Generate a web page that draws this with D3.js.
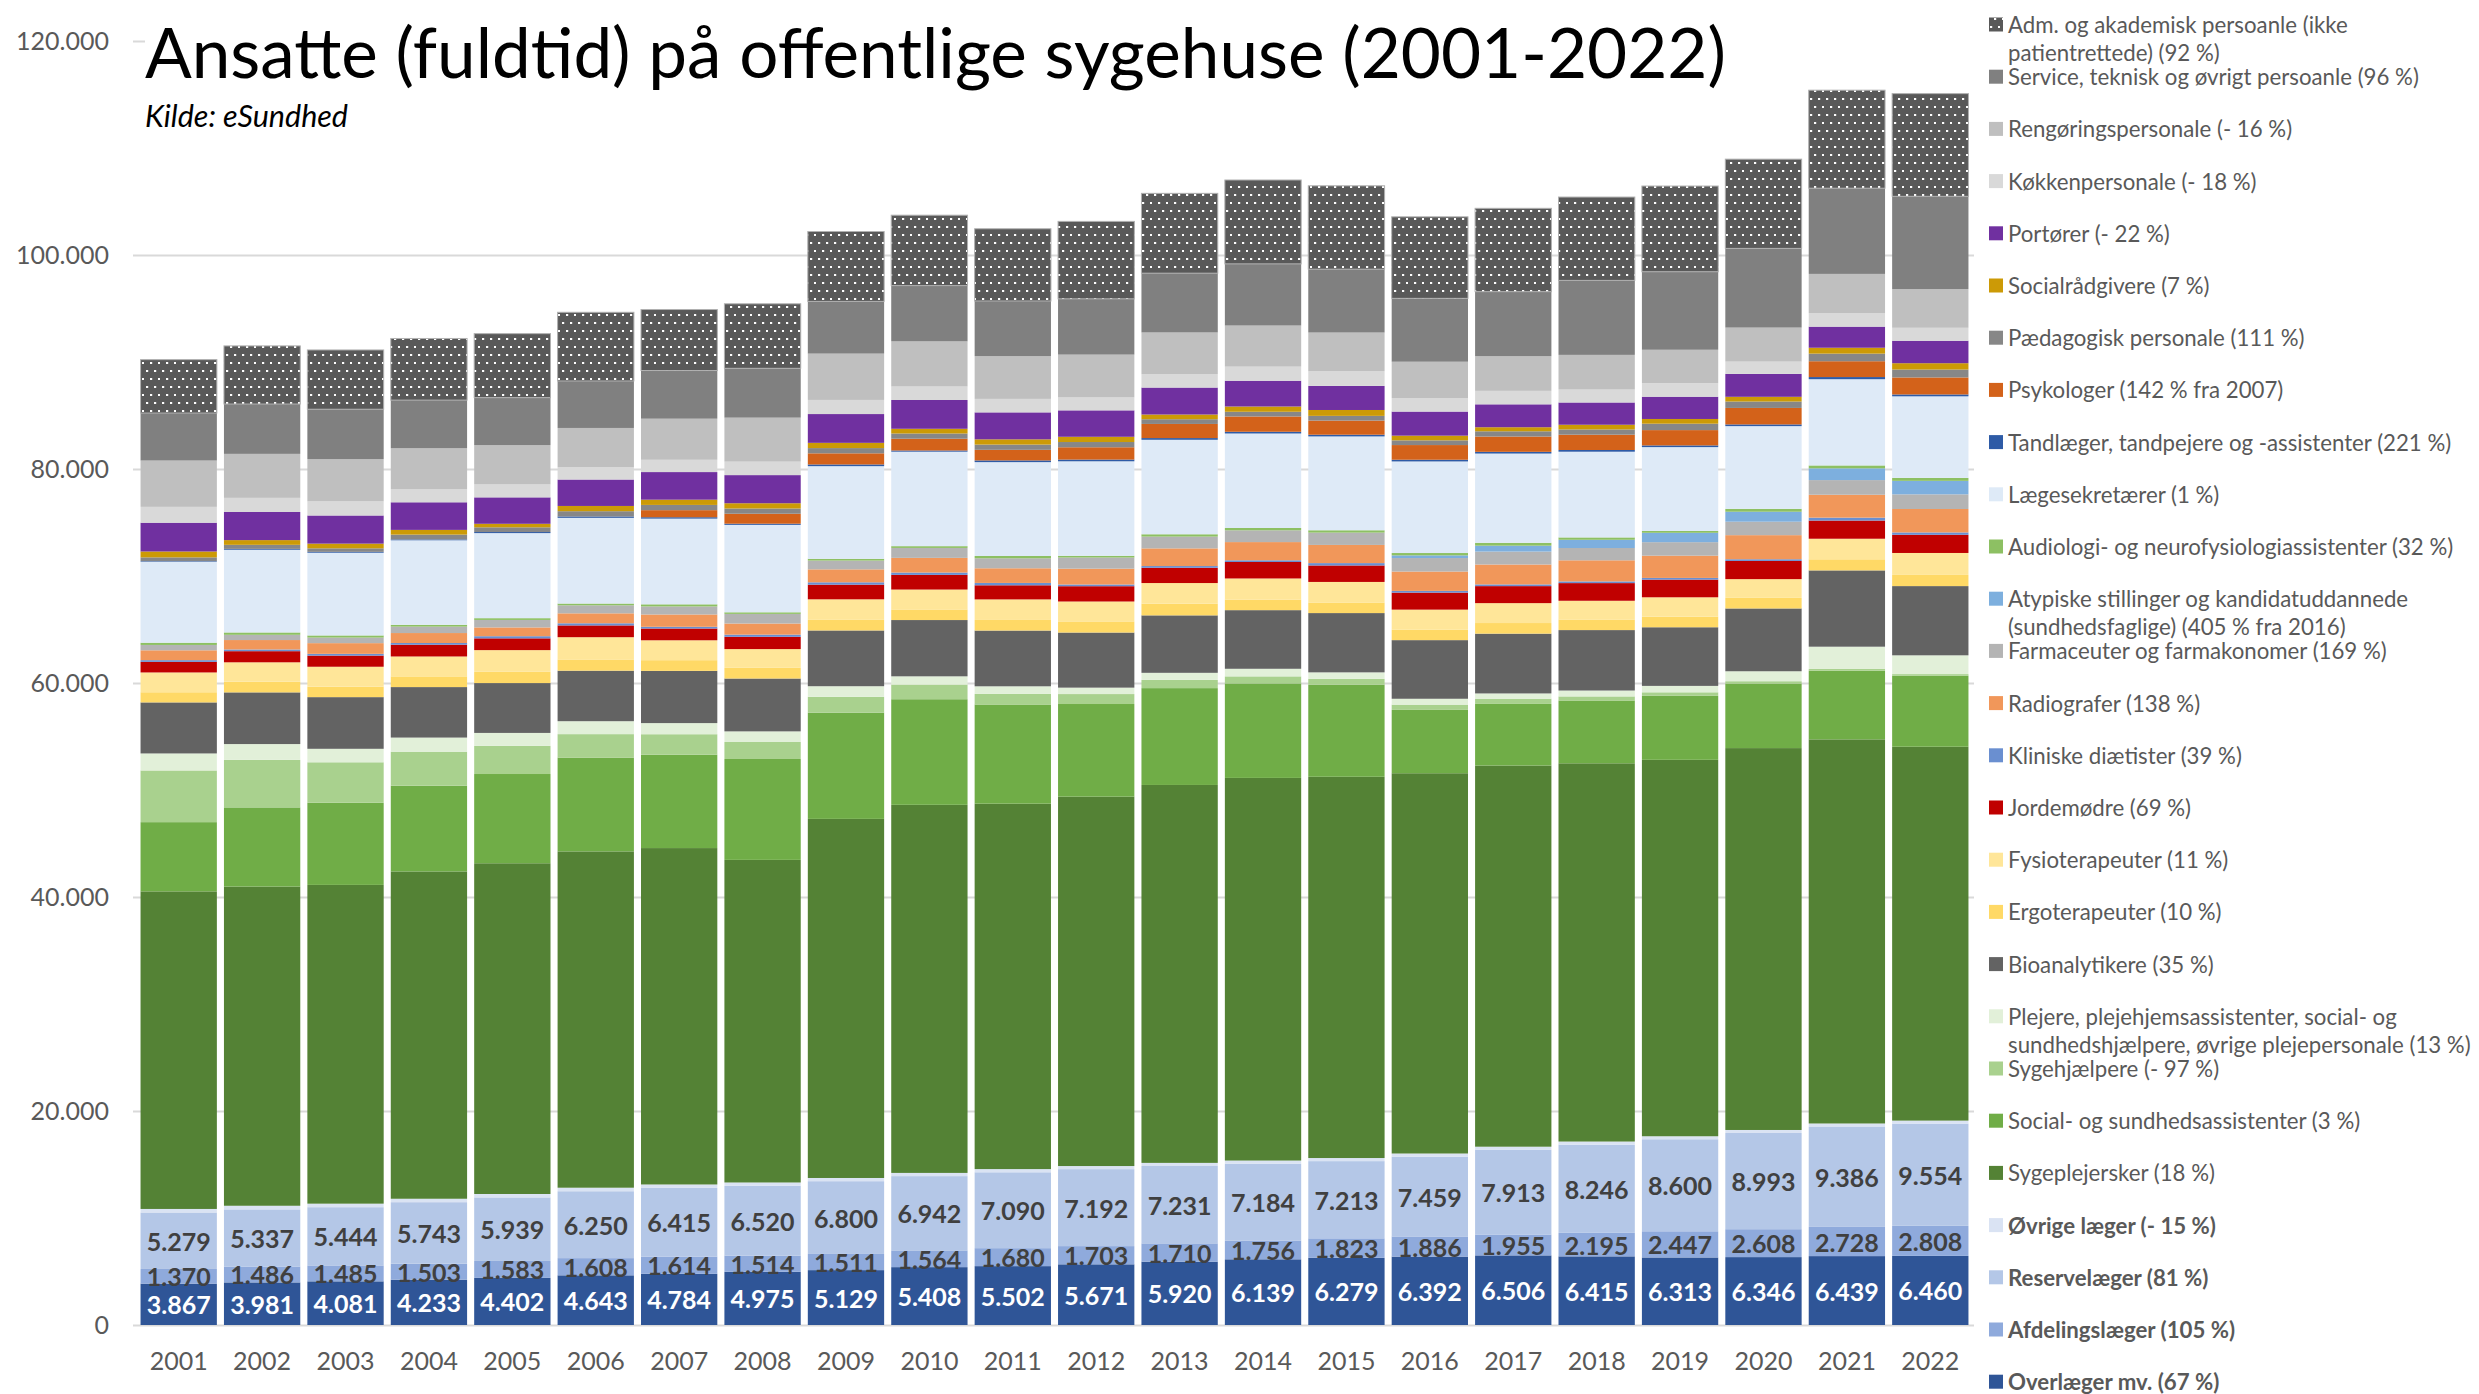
<!DOCTYPE html>
<html>
<head>
<meta charset="utf-8">
<script src="https://cdn.jsdelivr.net/npm/d3@7"></script>
<style>
  body { margin: 0; background: #fff; }
  svg { display: block; }
  text { font-family: Lato, "Open Sans", sans-serif; }
</style>
</head>
<body>
<svg id="chart" width="2479" height="1394"></svg>
<script>
// ---- data (stack order bottom -> top) ----
const years = ['2001','2002','2003','2004','2005','2006','2007','2008','2009','2010','2011',
               '2012','2013','2014','2015','2016','2017','2018','2019','2020','2021','2022'];

const overlaeger      = [3867,3981,4081,4233,4402,4643,4784,4975,5129,5408,5502,5671,5920,6139,6279,6392,6506,6415,6313,6346,6439,6460];
const afdelingslaeger = [1370,1486,1485,1503,1583,1608,1614,1514,1511,1564,1680,1703,1710,1756,1823,1886,1955,2195,2447,2608,2728,2808];
const reservelaeger   = [5279,5337,5444,5743,5939,6250,6415,6520,6800,6942,7090,7192,7231,7184,7213,7459,7913,8246,8600,8993,9386,9554];
const ovrigeLaeger    = [330,340,330,320,320,330,320,310,300,300,300,290,290,290,290,290,290,290,280,280,280,280];
const sygeplejersker  = [29680,29830,29790,30590,30910,31430,31440,30150,33560,34400,34150,34520,35320,35760,35630,35540,35620,35350,35180,35690,35900,34940];
const sosuAssistenter = [6470,7400,7680,8010,8340,8770,8720,9430,9930,9870,9270,8660,9050,8830,8610,5920,5760,5870,5980,6030,6420,6640];
const sygehjaelpere   = [4830,4440,3780,3180,2630,2190,1920,1590,1480,1370,990,930,770,660,550,490,490,380,330,220,160,150];
const plejere         = [1590,1480,1260,1320,1210,1210,1040,990,990,770,710,600,660,710,600,550,490,550,600,930,2080,1755];
const bioanalytikere  = [4770,4830,4830,4720,4660,4720,4880,4940,5210,5260,5210,5150,5370,5480,5540,5480,5590,5650,5480,5870,7130,6470];
const ergoterapeuter  = [950,1000,980,1000,1050,1050,1000,1000,990,990,990,1040,1100,990,990,990,990,990,990,990,1040,1045];
const fysioterapeuter = [1850,1810,1860,1860,2030,2080,1860,1750,1920,1860,1920,1860,1920,1970,1920,1860,1860,1750,1810,1750,1920,2050];
const jordemoedre     = [990,1040,1040,1100,1100,1100,1100,1150,1370,1370,1320,1430,1430,1540,1540,1590,1590,1650,1650,1700,1700,1700];
const klinDiaetister  = [160,160,165,160,200,200,160,200,220,220,220,160,160,160,220,160,160,160,160,160,270,220];
const radiografer     = [920,880,1000,930,820,930,1150,1040,1210,1370,1370,1480,1650,1700,1700,1810,1860,1970,2080,2250,2140,2190];
const farmaceuter     = [500,490,520,600,700,750,750,900,820,930,930,1040,1100,1100,1150,1260,1210,1150,1260,1260,1370,1370];
const atypiske        = [0,0,0,0,0,0,0,0,0,0,0,0,0,0,0,250,550,770,880,930,1100,1260];
const audiologi       = [210,220,200,170,165,165,200,150,165,165,220,165,220,220,220,220,270,220,165,270,270,280];
const laegesekretaerer= [7570,7730,7730,7900,7950,8010,8010,8170,8660,8830,8770,8830,8830,8830,8770,8560,8340,8010,7840,7730,8060,7620];
const tandlaeger      = [55,80,80,80,100,130,130,110,160,110,160,160,160,160,160,160,160,160,160,160,200,175];
const psykologer      = [0,0,0,0,0,0,660,930,1040,1100,990,1150,1320,1430,1320,1370,1430,1430,1430,1540,1480,1590];
const paedagogisk     = [350,380,330,450,440,490,490,490,490,490,490,490,440,440,440,440,490,490,600,600,710,740];
const socialraadgivere= [550,440,440,440,330,490,490,490,490,440,490,490,440,490,550,440,380,440,440,440,550,590];
const portoerer       = [2690,2630,2630,2580,2470,2470,2580,2630,2690,2690,2520,2470,2520,2410,2250,2250,2140,2080,2080,2140,1970,2100];
const koekken         = [1480,1320,1320,1210,1210,1150,1150,1260,1320,1260,1260,1210,1260,1320,1370,1260,1260,1210,1260,1150,1260,1210];
const rengoering      = [4330,4110,3950,3840,3670,3670,3840,4110,4330,4220,4000,4000,3890,3840,3620,3400,3240,3240,3130,3180,3670,3620];
const service         = [4440,4660,4660,4500,4440,4390,4500,4610,4880,5210,5150,5210,5540,5760,5920,5920,6030,6960,7290,7400,8010,8665];
const admAkademisk    = [4990,5430,5540,5760,5980,6420,5700,6030,6530,6580,6750,7240,7460,7840,7790,7620,7790,7790,8010,8340,9160,9600];

const seriesValues = [overlaeger, afdelingslaeger, reservelaeger, ovrigeLaeger, sygeplejersker, sosuAssistenter,
  sygehjaelpere, plejere, bioanalytikere, ergoterapeuter, fysioterapeuter, jordemoedre, klinDiaetister, radiografer,
  farmaceuter, atypiske, audiologi, laegesekretaerer, tandlaeger, psykologer, paedagogisk, socialraadgivere,
  portoerer, koekken, rengoering, service, admAkademisk];

const seriesNames = [
  'Overlæger mv. (67 %)',
  'Afdelingslæger (105 %)',
  'Reservelæger (81 %)',
  'Øvrige læger (- 15 %)',
  'Sygeplejersker (18 %)',
  'Social- og sundhedsassistenter (3 %)',
  'Sygehjælpere (- 97 %)',
  'Plejere, plejehjemsassistenter, social- og\nsundhedshjælpere, øvrige plejepersonale (13 %)',
  'Bioanalytikere (35 %)',
  'Ergoterapeuter (10 %)',
  'Fysioterapeuter (11 %)',
  'Jordemødre (69 %)',
  'Kliniske diætister (39 %)',
  'Radiografer (138 %)',
  'Farmaceuter og farmakonomer (169 %)',
  'Atypiske stillinger og kandidatuddannede\n(sundhedsfaglige) (405 % fra 2016)',
  'Audiologi- og neurofysiologiassistenter (32 %)',
  'Lægesekretærer (1 %)',
  'Tandlæger, tandpejere og -assistenter (221 %)',
  'Psykologer (142 % fra 2007)',
  'Pædagogisk personale (111 %)',
  'Socialrådgivere (7 %)',
  'Portører (- 22 %)',
  'Køkkenpersonale (- 18 %)',
  'Rengøringspersonale (- 16 %)',
  'Service, teknisk og øvrigt persoanle (96 %)',
  'Adm. og akademisk persoanle (ikke\npatientrettede) (92 %)'
];

const seriesColors = ['#2F5597','#8FAADC','#B4C7E7','#DAE3F3','#548235','#70AD47','#A9D18E','#E2F0D9',
  '#636363','#FFD966','#FFE699','#C00000','#6A8FD0','#F1975A','#B4B4B4','#7DAFDE','#8DC063','#DEEAF7',
  '#2E5BA6','#D3621A','#878787','#CC9A06','#7030A0','#D9D9D9','#BFBFBF','#808080','url(#dots)'];

const boldLegend = [0, 1, 2, 3];          // doctor series are bold in the legend
const labelled = [0, 1, 2];               // doctor series carry value labels
const yTicks = [0, 20000, 40000, 60000, 80000, 100000, 120000];

// ---- setup ----
const dk = d3.formatLocale({ decimal: ',', thousands: '.', grouping: [3], currency: ['', ' kr.'] });
const fmt = dk.format(',d');

const svg = d3.select('#chart');
const plotLeft = 133, plotRight = 1974;

const keys = seriesNames.map((d, i) => 's' + i);
const table = years.map((yr, j) => {
    const row = { year: yr };
    seriesValues.forEach((arr, i) => { row['s' + i] = arr[j]; });
    return row;
});

const x = d3.scaleBand().domain(years).range([137, 1972]).paddingInner(0.085).paddingOuter(0.0425);
const y = d3.scaleLinear().domain([0, 120000]).range([1325, 41]);

const stacked = d3.stack().keys(keys)(table);

// dotted pattern for adm. personale
const defs = svg.append('defs');
const pat = defs.append('pattern').attr('id', 'dots')
    .attr('patternUnits', 'userSpaceOnUse').attr('width', 16).attr('height', 16);
pat.append('rect').attr('width', 16).attr('height', 16).attr('fill', '#595959');
[[2, 2], [10, 2], [6, 10], [14, 10]].forEach(([px, py]) => {
    pat.append('rect').attr('x', px).attr('y', py).attr('width', 2.2).attr('height', 2).attr('fill', '#fff');
});

// gridlines + y labels
const yAxis = svg.append('g').attr('transform', `translate(${plotLeft},0)`)
    .call(d3.axisLeft(y).tickValues(yTicks).tickSize(-(plotRight - plotLeft)).tickPadding(24).tickFormat(fmt));
yAxis.select('.domain').remove();
yAxis.selectAll('line').attr('stroke', '#d9d9d9').attr('stroke-width', 2);
yAxis.selectAll('text').attr('fill', '#595959').style('font-size', '25px').style('font-family', 'Lato, "Open Sans", sans-serif');

// bars
const layers = svg.append('g').selectAll('g').data(stacked).enter().append('g')
    .attr('fill', (d, i) => seriesColors[i]);
layers.selectAll('rect').data(d => d).enter().append('rect')
    .attr('x', d => x(d.data.year))
    .attr('width', x.bandwidth())
    .attr('y', d => y(d[1]))
    .attr('height', d => Math.max(0, y(d[0]) - y(d[1])));
layers.filter((d, i) => i === stacked.length - 1).selectAll('rect')
    .attr('stroke', '#b0b0b0').attr('stroke-width', 1);

// value labels on the doctor segments
labelled.forEach(i => {
    svg.append('g').selectAll('text').data(stacked[i]).enter().append('text')
        .attr('x', d => x(d.data.year) + x.bandwidth() / 2)
        .attr('y', d => y((d[0] + d[1]) / 2))
        .attr('text-anchor', 'middle')
        .attr('dominant-baseline', 'central')
        .attr('font-weight', 700)
        .attr('font-size', 25)
        .attr('fill', i === 0 ? '#ffffff' : '#404040')
        .text(d => fmt(d[1] - d[0]));
});

// year labels
const xAxis = svg.append('g').attr('transform', `translate(0,${y(0)})`)
    .call(d3.axisBottom(x).tickSize(0).tickPadding(27));
xAxis.select('.domain').remove();
xAxis.selectAll('text').attr('fill', '#595959').style('font-size', '25px').style('font-family', 'Lato, "Open Sans", sans-serif');

// fit helper: scale font-size so a text spans the wanted width
const fitWidth = (sel, target) => {
    const w = sel.node().getComputedTextLength();
    const fs = parseFloat(sel.attr('font-size'));
    sel.attr('font-size', fs * target / w);
};

// title (white box hides the top gridline, as in the original)
svg.append('rect').attr('x', 145).attr('y', 26).attr('width', plotRight - 145).attr('height', 30).attr('fill', '#fff');
const title = svg.append('text').attr('x', 145).attr('y', 78).attr('font-size', 70).attr('fill', '#000')
    .text('Ansatte (fuldtid) på offentlige sygehuse (2001-2022)');
fitWidth(title, 1581);
const sub = svg.append('text').attr('x', 145).attr('y', 127).attr('font-size', 27).attr('font-style', 'italic')
    .attr('fill', '#000').text('Kilde: eSundhed');
fitWidth(sub, 203);

// legend (top to bottom = reverse stack order)
const legend = svg.append('g');
const order = d3.range(seriesNames.length).reverse();
const probe = legend.append('text').attr('font-size', 20).text(seriesNames[25]);
fitWidth(probe, 411);
const legendFs = parseFloat(probe.attr('font-size'));
probe.remove();

order.forEach((si, row) => {
    const cy = 24.5 + row * 52.2;
    legend.append('rect').attr('x', 1989).attr('y', cy - 7).attr('width', 14).attr('height', 14)
        .attr('fill', seriesColors[si]);
    const t = legend.append('text').attr('x', 2008).attr('y', cy)
        .attr('font-size', legendFs).attr('fill', '#595959')
        .attr('font-weight', boldLegend.includes(si) ? 700 : 400);
    seriesNames[si].split('\n').forEach((line, k) => {
        t.append('tspan').attr('x', 2008).attr('y', cy + k * 28).attr('dominant-baseline', 'central').text(line);
    });
});
</script>
</body>
</html>
